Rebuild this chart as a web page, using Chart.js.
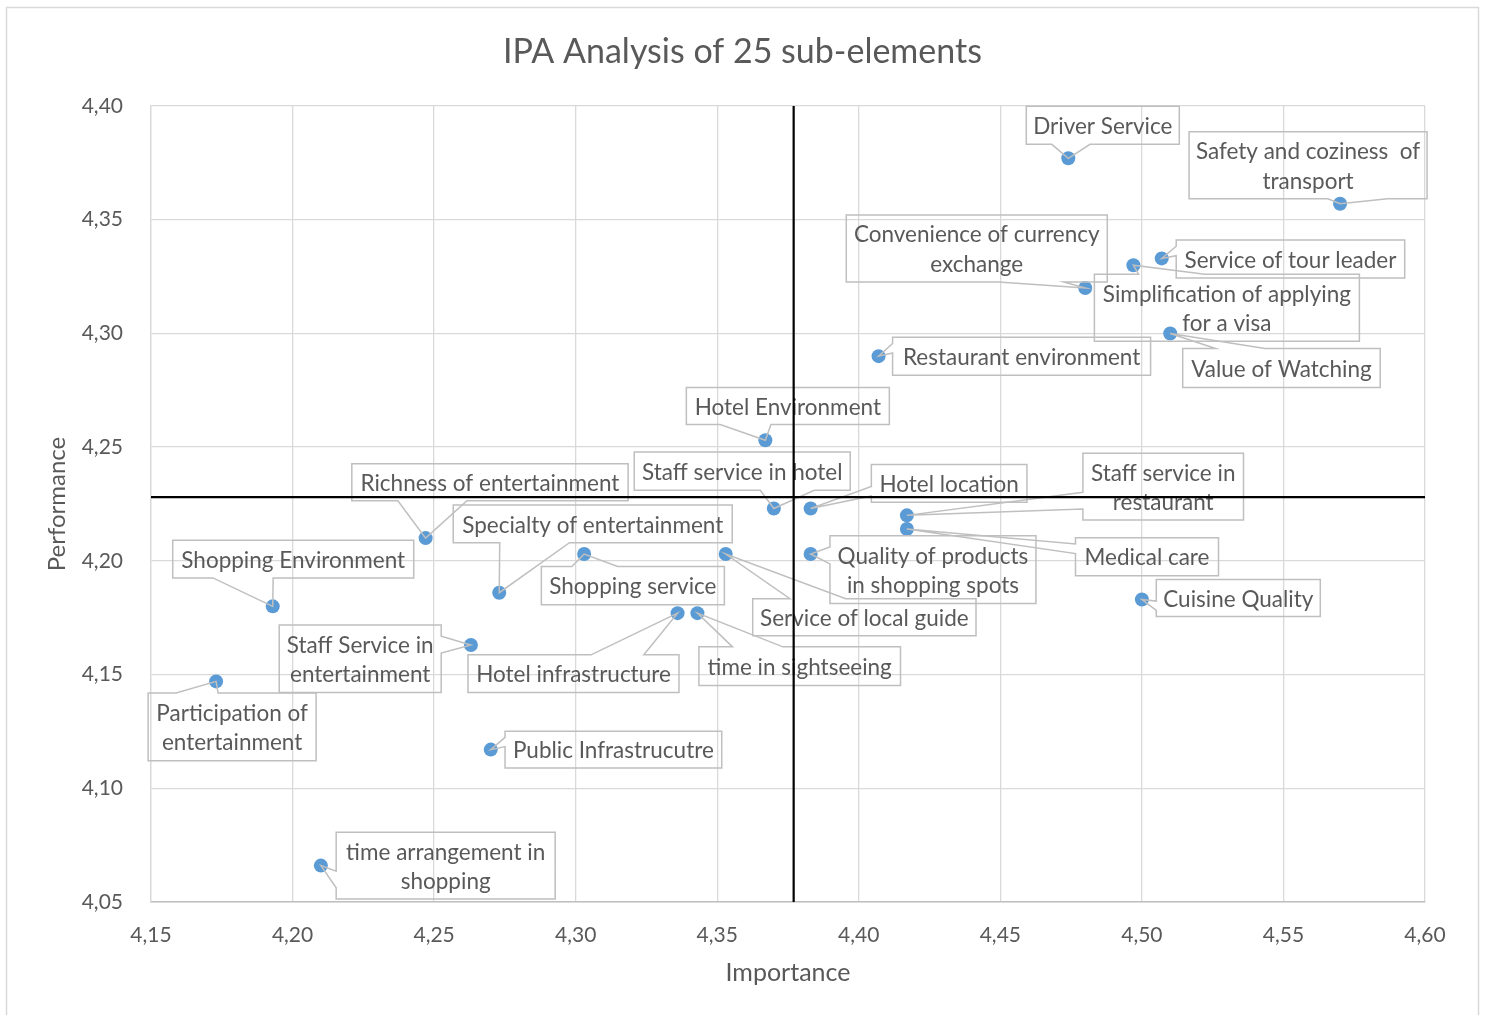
<!DOCTYPE html>
<html>
<head>
<meta charset="utf-8">
<title>IPA Analysis of 25 sub-elements</title>
<script src="https://cdn.jsdelivr.net/npm/chart.js@4.4.0/dist/chart.umd.min.js"></script>
<style>
  html, body { margin: 0; padding: 0; background: #fff; }
  #wrap { width: 1488px; height: 1015px; }
</style>
</head>
<body>
<div id="wrap"><canvas id="chart1" width="1488" height="1015"></canvas></div>
<script>
// sub-elements (\n = line break in the callout)
const elements = [
  'Driver Service',
  'Safety and coziness  of\ntransport',
  'Convenience of currency\nexchange',
  'Simplification of applying\nfor a visa',
  'Service of tour leader',
  'Value of Watching',
  'Restaurant environment',
  'Hotel Environment',
  'Staff service in hotel',
  'Hotel location',
  'Staff service in\nrestaurant',
  'Medical care',
  'Quality of products\nin shopping spots',
  'Cuisine Quality',
  'Service of local guide',
  'Specialty of entertainment',
  'Shopping service',
  'Richness of entertainment',
  'Shopping Environment',
  'Staff Service in\nentertainment',
  'Hotel infrastructure',
  'time in sightseeing',
  'Participation of\nentertainment',
  'Public Infrastrucutre',
  'time arrangement in\nshopping'
];
const importance = [4.474, 4.570, 4.480, 4.497, 4.507, 4.510, 4.407, 4.367, 4.370, 4.383,
                    4.417, 4.417, 4.383, 4.500, 4.353, 4.273, 4.303, 4.247, 4.193, 4.263,
                    4.336, 4.343, 4.173, 4.270, 4.210];
const performance = [4.377, 4.357, 4.320, 4.330, 4.333, 4.300, 4.290, 4.253, 4.223, 4.223,
                     4.220, 4.214, 4.203, 4.183, 4.203, 4.186, 4.203, 4.210, 4.180, 4.163,
                     4.177, 4.177, 4.147, 4.117, 4.066];

// quadrant split lines
const meanImportance = 4.377;
const meanPerformance = 4.228;

// axes
const xMin = 4.15, xMax = 4.60;
const yMin = 4.05, yMax = 4.40;
const tickStep = 0.05;

const chartTitle = 'IPA Analysis of 25 sub-elements';

// callout boxes: offset from the point (px) + size
const callouts = [
  [-42, -52, 153, 38], [-151, -72, 238, 67], [-239, -73, 261, 67], [-39, 9, 265, 67],
  [14.5, -18.5, 228.5, 38], [12.5, 15, 197.5, 39], [14, -19, 258, 38], [-79, -52.7, 203, 37],
  [-139.6, -56.6, 216, 38.3], [60.7, -44, 155.6, 37.7], [176, -62, 160.6, 66.7], [168.6, 8.7, 143, 38],
  [19.3, -18.3, 206, 67.7], [14.4, -20, 164, 37], [27, 44.7, 223.3, 37], [-46, -87.7, 279, 37.7],
  [-42.8, 12.4, 183, 38.3], [-73.8, -74.3, 276.3, 37], [-100, -66, 241, 37.6], [-191.7, -20, 162, 67.4],
  [-209.6, 41.7, 211, 37.7], [1.5, 33.7, 201.6, 38.7], [-68, 11.7, 168, 67.7], [14.3, -18.3, 216.7, 36.7],
  [15.3, -33.4, 219, 66.7]
];

const textColor = '#595959';
Chart.defaults.font.family = 'Lato, "Open Sans", sans-serif';
Chart.defaults.color = textColor;

// rectangle callout with a wedge tail (same shape as office "wedgeRectCallout")
function wedgePath(ctx, l, t, w, h, px, py) {
  const r = l + w, b = t + h, hc = l + w / 2, vc = t + h / 2;
  const dxPos = px - hc, dyPos = py - vc;
  const dz = Math.abs(dyPos) - Math.abs(dxPos * h / w);
  const x1 = l + w * (dxPos > 0 ? 7 : 2) / 12, x2 = l + w * (dxPos > 0 ? 10 : 5) / 12;
  const y1 = t + h * (dyPos > 0 ? 7 : 2) / 12, y2 = t + h * (dyPos > 0 ? 10 : 5) / 12;
  const xl = dz > 0 ? l : (dxPos > 0 ? l : px);
  const yl = dz > 0 ? y1 : (dxPos > 0 ? y1 : py);
  const xt = dz > 0 ? (dyPos > 0 ? x1 : px) : x1;
  const yt = dz > 0 ? (dyPos > 0 ? t : py) : t;
  const xr = dz > 0 ? r : (dxPos > 0 ? px : r);
  const yr = dz > 0 ? y1 : (dxPos > 0 ? py : y1);
  const xb = dz > 0 ? (dyPos > 0 ? px : x1) : x1;
  const yb = dz > 0 ? (dyPos > 0 ? py : b) : b;
  ctx.beginPath();
  ctx.moveTo(l, t); ctx.lineTo(x1, t); ctx.lineTo(xt, yt); ctx.lineTo(x2, t); ctx.lineTo(r, t);
  ctx.lineTo(r, y1); ctx.lineTo(xr, yr); ctx.lineTo(r, y2); ctx.lineTo(r, b);
  ctx.lineTo(x2, b); ctx.lineTo(xb, yb); ctx.lineTo(x1, b); ctx.lineTo(l, b);
  ctx.lineTo(l, y2); ctx.lineTo(xl, yl); ctx.lineTo(l, y1);
  ctx.closePath();
}

const calloutPlugin = {
  id: 'callouts',
  afterDatasetDraw(chart, args) {
    if (args.index !== 0) return; // only for the points
    const ctx = chart.ctx;
    ctx.save();
    ctx.font = '22.5px Lato';
    ctx.fillStyle = textColor;
    ctx.textAlign = 'center';
    ctx.textBaseline = 'middle';
    args.meta.data.forEach((pt, i) => {
      const c = callouts[i];
      const l = pt.x + c[0], t = pt.y + c[1], w = c[2], h = c[3];
      wedgePath(ctx, l, t, w, h, pt.x, pt.y);
      ctx.strokeStyle = '#bfbfbf';
      ctx.lineWidth = 1.5;
      ctx.stroke();
      const lines = elements[i].split('\n');
      const lh = 29.5;
      const cy = t + h / 2 + 1.5 - (lines.length - 1) * lh / 2;
      lines.forEach((s, k) => ctx.fillText(s, l + w / 2, cy + k * lh));
    });
    ctx.restore();
  }
};

// white background, outer frame and the title centred on the frame
const framePlugin = {
  id: 'frame',
  beforeDraw(chart) {
    const ctx = chart.ctx;
    ctx.save();
    ctx.fillStyle = '#fff';
    ctx.fillRect(0, 0, chart.width, chart.height);
    ctx.strokeStyle = '#d9d9d9';
    ctx.lineWidth = 1.5;
    ctx.strokeRect(6.5, 7.5, 1472, 1020);
    ctx.font = '34px Lato';
    ctx.fillStyle = textColor;
    ctx.textAlign = 'center';
    ctx.textBaseline = 'middle';
    ctx.fillText(chartTitle, 742.5, 52);
    ctx.restore();
  }
};

const fmt = v => Number(v).toFixed(2).replace('.', ',');

const config = {
  type: 'scatter',
  data: {
    datasets: [{
      label: 'sub-elements',
      data: importance.map((v, i) => ({ x: v, y: performance[i] })),
      pointRadius: 7,
      pointBackgroundColor: '#5b9bd5',
      pointBorderColor: '#5b9bd5',
      pointBorderWidth: 0,
      order: 2
    }, {
      label: 'mean importance',
      data: [{ x: meanImportance, y: yMin }, { x: meanImportance, y: yMax }],
      showLine: true,
      borderColor: '#000',
      borderWidth: 2.2,
      pointRadius: 0,
      order: 1
    }, {
      label: 'mean performance',
      data: [{ x: xMin, y: meanPerformance }, { x: xMax, y: meanPerformance }],
      showLine: true,
      borderColor: '#000',
      borderWidth: 2.2,
      pointRadius: 0,
      order: 1
    }]
  },
  options: {
    responsive: false,
    animation: false,
    layout: { padding: { left: 0, right: 63, top: 106, bottom: 0 } },
    plugins: {
      legend: { display: false },
      tooltip: { enabled: false },
      title: { display: false }
    },
    scales: {
      x: {
        type: 'linear',
        min: xMin, max: xMax,
        afterFit: s => { s.height = 113; },
        ticks: { stepSize: tickStep, padding: 21, font: { size: 21 }, color: textColor, callback: fmt },
        grid: { color: '#d9d9d9', lineWidth: 1.3, drawTicks: false },
        border: { color: '#bfbfbf', width: 1.5 },
        title: { display: true, text: 'Importance', color: textColor, font: { size: 25 }, padding: { bottom: 27 } }
      },
      y: {
        type: 'linear',
        min: yMin, max: yMax,
        afterFit: s => { s.width = 151; },
        ticks: { stepSize: tickStep, padding: 28, font: { size: 21 }, color: textColor, callback: fmt },
        grid: { color: '#d9d9d9', lineWidth: 1.3, drawTicks: false },
        border: { color: '#d9d9d9', width: 1.3 },
        title: { display: true, text: 'Performance', color: textColor, font: { size: 24 }, padding: { top: 42.6 } }
      }
    }
  },
  plugins: [framePlugin, calloutPlugin]
};

const myChart = new Chart(document.getElementById('chart1'), config);
</script>
</body>
</html>
